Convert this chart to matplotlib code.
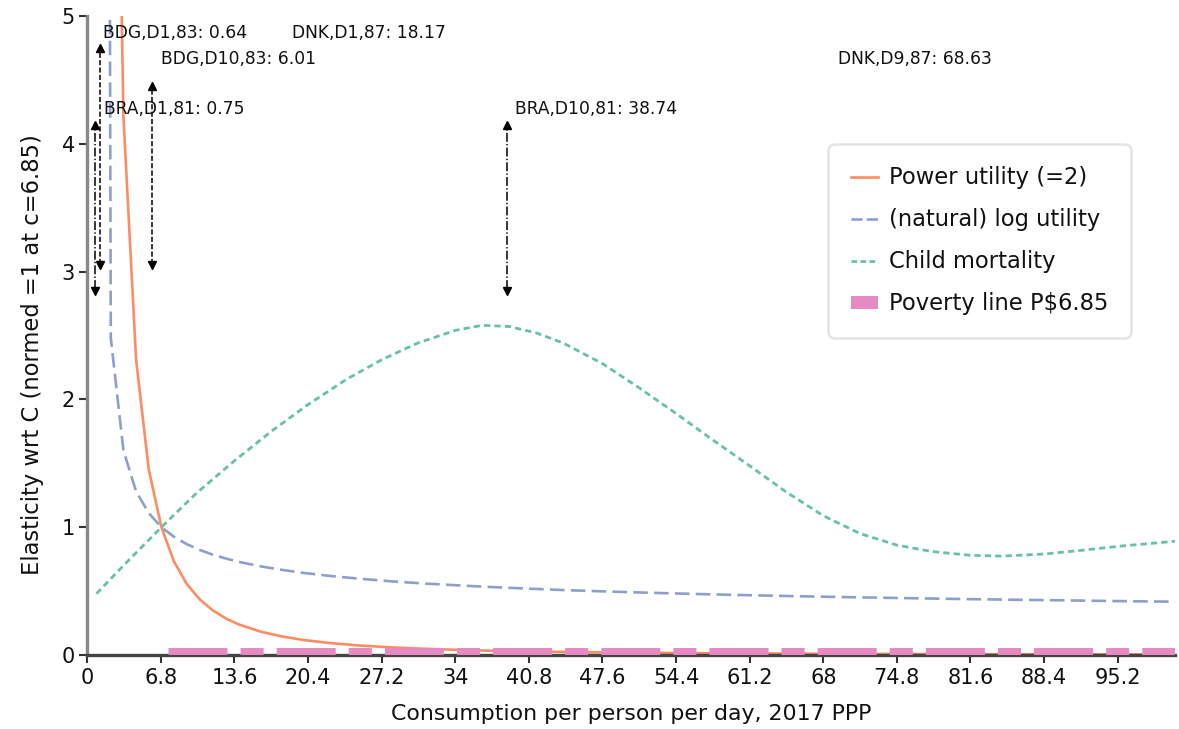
import numpy as np
import matplotlib
matplotlib.use('Agg')
import matplotlib.pyplot as plt
from matplotlib.patches import Patch
from matplotlib.lines import Line2D

# consumption grid (2017 PPP $/day) and values
c_util = [1.0, 2.17, 3.34, 4.51, 5.68, 6.85, 8.0, 9.2, 10.4, 11.6, 12.8, 14, 16, 18, 20,
          22.5, 25, 28, 31, 34, 37, 40, 44, 48, 52, 56, 60, 65, 70, 75, 80, 85, 90, 95, 100.5]
power_util = [46.9, 9.96, 4.21, 2.31, 1.45, 1.0, 0.733, 0.554, 0.434, 0.349, 0.286, 0.239,
              0.183, 0.145, 0.117, 0.093, 0.075, 0.060, 0.049, 0.041, 0.034, 0.029, 0.024,
              0.020, 0.017, 0.015, 0.013, 0.011, 0.0096, 0.0083, 0.0073, 0.0065, 0.0058,
              0.0052, 0.0046]
log_util = [39.0, 2.48, 1.60, 1.28, 1.11, 1.0, 0.925, 0.867, 0.822, 0.785, 0.755, 0.729,
            0.694, 0.666, 0.642, 0.618, 0.598, 0.577, 0.560, 0.546, 0.533, 0.522, 0.508,
            0.497, 0.487, 0.478, 0.470, 0.461, 0.453, 0.446, 0.439, 0.433, 0.428, 0.422, 0.417]

c_mort = [0.85, 3.34, 6.85, 10, 13.6, 17, 20.4, 24, 27.2, 30.5, 34, 36.5, 39, 41.5, 44,
          47.6, 51, 54.4, 57.5, 61.2, 64.5, 68, 71.4, 74.8, 78, 81.6, 84.5, 88.4, 92, 95.2, 100.5]
child_mort = [0.48, 0.70, 1.0, 1.26, 1.52, 1.75, 1.96, 2.16, 2.31, 2.44, 2.54, 2.58, 2.57,
              2.52, 2.44, 2.28, 2.09, 1.89, 1.70, 1.48, 1.28, 1.09, 0.95, 0.86, 0.81, 0.78,
              0.774, 0.79, 0.82, 0.85, 0.89]

# poverty line band along the bottom
pov_x = [7.5, 100.5]
pov_y = [0.03, 0.03]

# decile markers: label, value, arrow x, arrow bottom/top, label height, style
ann_labels = ['BDG,D1,83: 0.64', 'DNK,D1,87: 18.17', 'BDG,D10,83: 6.01',
              'DNK,D9,87: 68.63', 'BRA,D1,81: 0.75', 'BRA,D10,81: 38.74']
ann_values = [0.64, 18.17, 6.01, 68.63, 0.75, 38.74]
ann_arrow_x = [1.2, None, 6.01, None, 0.75, 38.74]
ann_bottom = [3.0, None, 3.0, None, 2.8, 2.8]
ann_top = [4.8, None, 4.5, None, 4.2, 4.2]
ann_label_y = [4.87, 4.87, 4.66, 4.66, 4.27, 4.27]
ann_style = ['--', '--', '--', '--', '-.', '-.']

xticks = [0, 6.8, 13.6, 20.4, 27.2, 34, 40.8, 47.6, 54.4, 61.2, 68, 74.8, 81.6, 88.4, 95.2]
xtick_labels = ['0', '6.8', '13.6', '20.4', '27.2', '34', '40.8', '47.6', '54.4', '61.2',
                '68', '74.8', '81.6', '88.4', '95.2']

col_power = '#fc8d62'
col_log = '#8da0cb'
col_mort = '#66c2a5'
col_pov = '#e78ac3'

plt.rcParams['font.family'] = 'DejaVu Sans'
plt.rcParams['lines.scale_dashes'] = False

fig = plt.figure(figsize=(11.79, 7.29), dpi=100)
ax = fig.add_axes([87.3 / 1179, 74 / 729, (1175 - 87.3) / 1179, (713 - 74) / 729])

ax.plot(c_util, power_util, color=col_power, lw=1.9, zorder=2)
ax.plot(c_util, log_util, color=col_log, lw=1.9, dashes=(10.5, 4.5), zorder=2)
ax.plot(c_mort, child_mort, color=col_mort, lw=2.0, dashes=(4.5, 3), zorder=2)
ax.plot(pov_x, pov_y, color=col_pov, lw=5, dashes=(42.5, 9.4, 16.6, 9.4),
        solid_capstyle='butt', dash_capstyle='butt', zorder=3)

# double headed arrows + labels
for lab, val, ax_x, bot, top, ly, st in zip(ann_labels, ann_values, ann_arrow_x,
                                            ann_bottom, ann_top, ann_label_y, ann_style):
    if ax_x is not None:
        ax.plot([ax_x, ax_x], [bot + 0.06, top - 0.06], color='black', lw=1.1,
                linestyle=st, zorder=4)
        ax.plot([ax_x], [top - 0.05], marker='^', color='black', ms=5.5, zorder=4)
        ax.plot([ax_x], [bot + 0.05], marker='v', color='black', ms=5.5, zorder=4)
    ax.annotate(lab, xy=(val, ly), xytext=(6, 0), textcoords='offset points',
                fontsize=12.3, va='center', ha='left', color='#111111', zorder=5)

ax.set_xlim(0, 100.5)
ax.set_ylim(0, 5)
ax.set_xticks(xticks)
ax.set_xticklabels(xtick_labels)
ax.set_yticks([0, 1, 2, 3, 4, 5])
ax.tick_params(axis='both', labelsize=15, length=6, width=1.5, color='#333333',
               labelcolor='#111111', pad=3)

for s in ['top', 'right']:
    ax.spines[s].set_visible(False)
ax.spines['left'].set_color('#888888')
ax.spines['left'].set_linewidth(2.4)
ax.spines['bottom'].set_color('#444444')
ax.spines['bottom'].set_linewidth(2.4)

ax.set_xlabel('Consumption per person per day, 2017 PPP', fontsize=15.8, color='#111111')
ax.set_ylabel('Elasticity wrt C (normed =1 at c=6.85)', fontsize=16.3, color='#111111')
ax.yaxis.set_label_coords(-0.04, 0.47)
ax.xaxis.set_label_coords(0.5, -0.076)

handles = [Line2D([0], [0], color=col_power, lw=1.9),
           Line2D([0], [0], color=col_log, lw=1.9, dashes=(8, 3)),
           Line2D([0], [0], color=col_mort, lw=2.0, dashes=(4, 2.5)),
           Patch(facecolor=col_pov, edgecolor='none')]
names = ['Power utility (=2)', '(natural) log utility', 'Child mortality', 'Poverty line P$6.85']
leg = ax.legend(handles, names, loc='upper left', bbox_to_anchor=(0.681, 0.800),
                borderaxespad=0, fontsize=16.3, frameon=True, fancybox=True,
                handlelength=1.2, handletextpad=0.5, labelspacing=0.84, borderpad=1.0,
                handleheight=0.55)
leg.get_frame().set_edgecolor('#dddddd')
leg.get_frame().set_linewidth(1.8)
leg.get_frame().set_boxstyle('round', pad=0, rounding_size=0.3)
for t in leg.get_texts():
    t.set_color('#111111')

fig.savefig('out.png', dpi=100)
